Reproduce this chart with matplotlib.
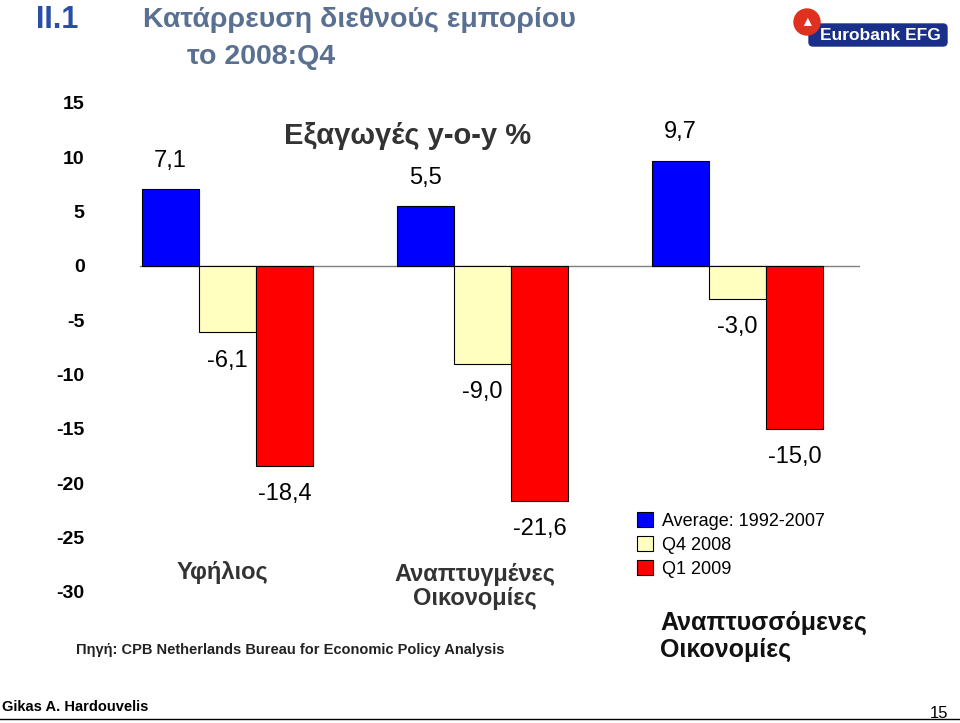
import matplotlib
matplotlib.use("Agg")
import matplotlib.pyplot as plt
import numpy as np
from matplotlib.patches import Rectangle, Circle, FancyBboxPatch

plt.rcParams["font.family"] = "Liberation Sans"
plt.rcParams["axes.unicode_minus"] = False

groups = ["Υφήλιος", "Αναπτυγμένες\nΟικονομίες", "Αναπτυσσόμενες\nΟικονομίες"]
series = ["Average: 1992-2007", "Q4 2008", "Q1 2009"]
avg = [7.1, 5.5, 9.7]
q4 = [-6.1, -9.0, -3.0]
q1 = [-18.4, -21.6, -15.0]
labels_fmt = lambda v: f"{v:.1f}".replace(".", ",")
colors = ["#0000FF", "#FFFFC0", "#FF0000"]
yticks = [15, 10, 5, 0, -5, -10, -15, -20, -25, -30]

fig = plt.figure(figsize=(9.6, 7.23), dpi=100)
H = 723.0
ax = fig.add_axes([118/960, 1-592/H, (860-118)/960, (592-103)/H])
x = np.arange(3)
w = 0.224
vals = [avg, q4, q1]
for i, (v, c) in enumerate(zip(vals, colors)):
    ax.bar(x + (i-1)*w, v, w, color=c, edgecolor="black", linewidth=0.8, label=series[i], zorder=3)
    for xi, vi in zip(x + (i-1)*w, v):
        off = 2.6 if vi > 0 else -2.6
        ax.text(xi, vi+off, labels_fmt(vi), ha="center", va="center", fontsize=17, zorder=4)
ax.set_xlim(-0.43, 2.48)
ax.set_ylim(-30, 15)
ax.axhline(0, color="#808080", lw=1, xmin=(140-118)/742, zorder=2)
for s in ax.spines.values():
    s.set_visible(False)
ax.set_xticks([])
ax.set_yticks(yticks)
ax.tick_params(axis="y", length=0, labelsize=14, pad=24)
for t in ax.get_yticklabels():
    t.set_fontweight("bold")

ax.text(0.705, 12.0, "Εξαγωγές y-o-y %", ha="center", va="center", fontsize=21, fontweight="bold", color="#333333")
ax.text(-0.02, -28.2, groups[0], ha="center", va="center", fontsize=17, fontweight="bold", color="#333333")
ax.text(0.97, -29.5, groups[1], ha="center", va="center", fontsize=17, fontweight="bold", color="#333333", linespacing=1.1)

leg = ax.legend(loc="upper left", bbox_to_anchor=((630-118)/742, (592-505)/489), frameon=False,
                fontsize=13, handlelength=0.9, handleheight=0.9, handletextpad=0.5, labelspacing=0.35, borderaxespad=0)
fig.text(660/960, 1-636/H, groups[2], ha="left", va="center", fontsize=18, fontweight="bold", color="#111111", linespacing=1.15)
fig.text(290/960, 1-650/H, "Πηγή: CPB Netherlands Bureau for Economic Policy Analysis", ha="center", va="center", fontsize=10.5, fontweight="bold", color="#222222")

fig.text(36/960, 1-20/H, "II.1", ha="left", va="center", fontsize=22, fontweight="bold", color="#2a4ea8")
fig.text(143/960, 1-20/H, "Κατάρρευση διεθνούς εμπορίου", ha="left", va="center", fontsize=20.5, fontweight="bold", color="#5a7090")
fig.text(187/960, 1-57/H, "το 2008:Q4", ha="left", va="center", fontsize=20.5, fontweight="bold", color="#5a7090")

# logo
lx = fig.add_axes([793/960, 1-50/H, 160/960, 45/H]); lx.set_xlim(0, 160); lx.set_ylim(0, 45); lx.axis("off")
lx.add_patch(FancyBboxPatch((16, 4), 138, 22, boxstyle="round,pad=0,rounding_size=4", color="#1a2f8a"))
lx.add_patch(Circle((14, 28), 13, color="#e03020"))
lx.text(87, 15, "Eurobank EFG", ha="center", va="center", color="white", fontsize=12.5, fontweight="bold")
lx.text(14, 28, "▲", ha="center", va="center", color="white", fontsize=10)

fig.text(2/960, 1-707/H, "Gikas A. Hardouvelis", ha="left", va="center", fontsize=10.5, fontweight="bold")
fig.text(948/960, 1-713/H, "15", ha="right", va="center", fontsize=12)
fig.add_artist(plt.Line2D([0, 1], [1-719/H, 1-719/H], color="black", lw=1))

fig.savefig("out.png", dpi=100)
